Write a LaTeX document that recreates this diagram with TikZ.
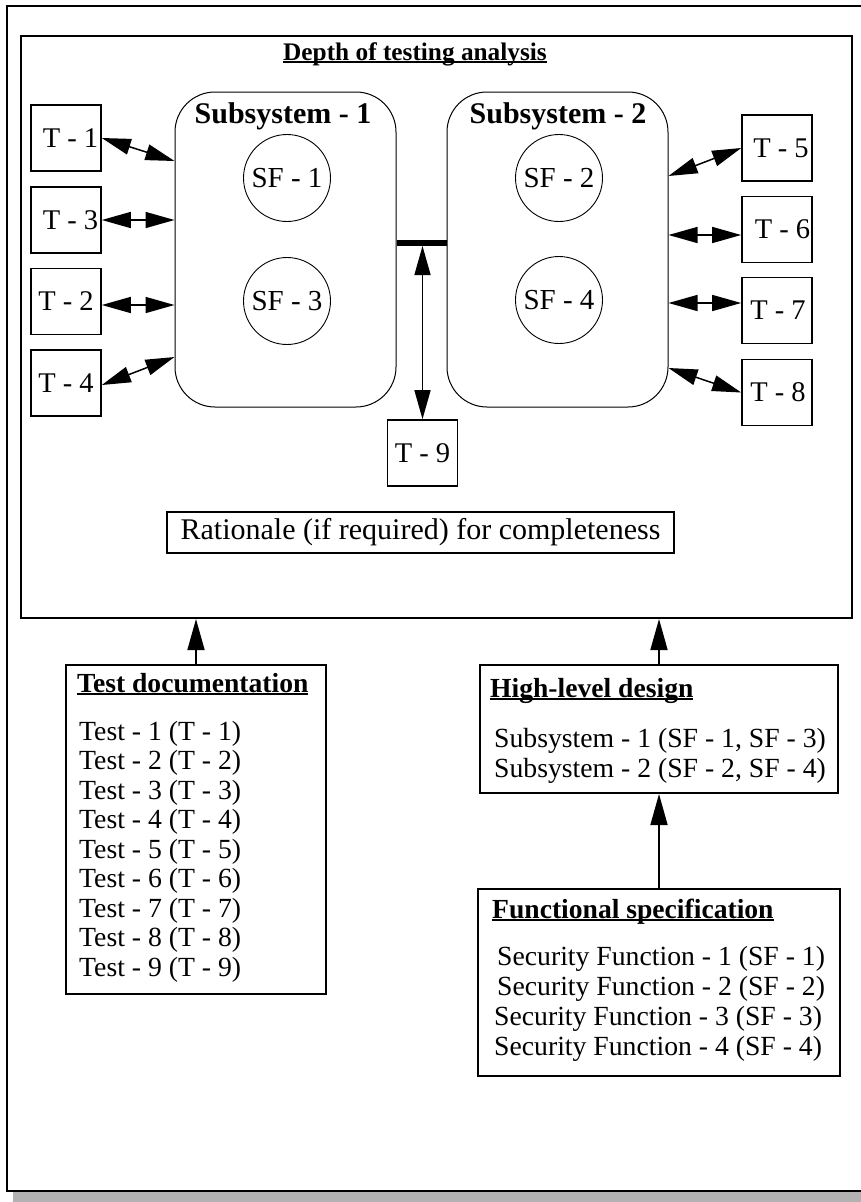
\documentclass[tikz,border=0pt]{standalone}
\usepackage{fontspec}
\setmainfont{Liberation Serif}
\usetikzlibrary{arrows.meta,calc}

% bold heading with a rule close under the baseline
\newsavebox\ulbox
\newcommand\ulbf[1]{\sbox\ulbox{\bfseries #1}\rlap{\usebox\ulbox}\rule[-2.8pt]{\wd\ulbox}{1.5pt}}

\begin{document}
\begin{tikzpicture}[x=1pt,y=-1pt,
  tbox/.style={draw,line width=1.6pt,minimum width=70pt,minimum height=66pt,inner sep=0pt,
    font=\fontsize{28.5}{30}\selectfont},
  subsys/.style={draw,line width=1pt,rounded corners=40pt,minimum width=221pt,
    minimum height=315pt,inner sep=0pt},
  subtitle/.style={anchor=base,inner sep=0pt,font=\fontsize{30}{32}\selectfont\bfseries},
  sfcirc/.style={draw,circle,line width=0.9pt,minimum size=87pt,inner sep=0pt,
    font=\fontsize{29}{30}\selectfont},
  dbl/.style={{Triangle[length=29pt,width=16pt]}-{Triangle[length=29pt,width=16pt]},line width=1.5pt},
  up/.style={-{Triangle[length=31pt,width=17pt]},line width=1.6pt},
  docbox/.style={draw,line width=2pt,inner sep=0pt,anchor=north west},
  listtext/.style={anchor=base west,inner sep=0pt,font=\fontsize{27.7}{30}\selectfont},
  titletext/.style={anchor=base west,inner sep=0pt,font=\fontsize{27.6}{30}\selectfont},
]
\useasboundingbox (0,0) rectangle (861,1202);
\clip (0,0) rectangle (861,1202);

% page frame with drop shadow
\fill[gray!60] (13,13) rectangle (880,1210);
\draw[line width=2pt,fill=white] (7,6) rectangle (872,1191);

% analysis panel
\node[draw,line width=2pt,minimum width=831pt,minimum height=582pt,inner sep=0pt,
  anchor=north west] (dta) at (20,35) {};
\node[anchor=base,inner sep=0pt,font=\fontsize{25.3}{28}\selectfont] (dtatitle) at (415,60)
  {\ulbf{Depth of testing analysis}};

% subsystems and their security functions
\node[subsys] (sub1) at (285.5,249.5) {};
\node[subsys] (sub2) at (557.5,249.5) {};
\node[subtitle] (sub1t) at (283,123) {Subsystem - 1};
\node[subtitle] (sub2t) at (558,123) {Subsystem - 2};
\node[sfcirc] (sf1) at (287,178) {SF - 1};
\node[sfcirc] (sf3) at (287,301) {SF - 3};
\node[sfcirc] (sf2) at (559,178) {SF - 2};
\node[sfcirc] (sf4) at (559,300) {SF - 4};

% tests
\node[tbox] (t1) at (66,138) {\hspace*{9pt}T - 1};
\node[tbox] (t3) at (66,220) {\hspace*{9pt}T - 3};
\node[tbox] (t2) at (66,301.5) {T - 2};
\node[tbox] (t4) at (66,383) {T - 4};
\node[tbox] (t5) at (777,148) {\hspace*{8pt}T - 5};
\node[tbox] (t6) at (777,229.5) {\hspace*{11pt}T - 6};
\node[tbox] (t7) at (777,310.5) {\hspace*{2pt}T - 7};
\node[tbox] (t8) at (777,392.5) {\hspace*{2pt}T - 8};
\node[tbox] (t9) at (422.5,453) {T - 9};

% test links
\draw[dbl] (t1.east) -- ([yshift=88.5pt]sub1.west);
\draw[dbl] (t3.east) -- (t3.east -| sub1.west);
\draw[dbl] ([yshift=-3.5pt]t2.east) -- ([yshift=-3.5pt]t2.east -| sub1.west);
\draw[dbl] ([yshift=-2pt]t4.east) -- ([yshift=-107.5pt]sub1.west);
\draw[dbl] ([yshift=73.5pt]sub2.east) -- (t5.west);
\draw[dbl] ([yshift=-5.5pt]t6.west -| sub2.east) -- ([yshift=-5.5pt]t6.west);
\draw[dbl] ([yshift=7.5pt]t7.west -| sub2.east) -- ([yshift=7.5pt]t7.west);
\draw[dbl] ([yshift=-118.5pt]sub2.east) -- (t8.west);

% interface between the subsystems
\draw[line width=6pt] ([yshift=6.5pt]sub1.east) -- ([yshift=6.5pt]sub2.west);
\coordinate (barlow) at (422.5,246);
\draw[dbl] (barlow) -- (t9.north);

\node[draw,line width=2pt,minimum width=507pt,minimum height=41pt,inner sep=0pt,
  font=\fontsize{30}{32}\selectfont] (rat) at (420.5,532.5) {Rationale (if required) for completeness};

% evidence boxes
\node[docbox,minimum width=260pt,minimum height=329pt] (tdoc) at (65,664) {};
\node[docbox,minimum width=358pt,minimum height=128pt] (hld) at (479,664) {};
\node[docbox,minimum width=362pt,minimum height=187pt] (fspec) at (477,888) {};

\node[titletext] (tdoct) at (77,692) {\ulbf{Test documentation}};
\foreach \i in {1,...,9}
  \node[listtext] (tl\i) at (79,{740+(\i-1)*29.5}) {Test - \i{} (T - \i)};

\node[titletext] (hldt) at (490,697) {\ulbf{High-level design}};
\node[listtext] (hl1) at (494,747) {Subsystem - 1 (SF - 1, SF - 3)};
\node[listtext] (hl2) at (494,777) {Subsystem - 2 (SF - 2, SF - 4)};

\node[titletext] (fspect) at (492,918) {\ulbf{Functional specification}};
\node[listtext] (fs1) at (497,965) {Security Function - 1 (SF - 1)};
\node[listtext] (fs2) at (497,995) {Security Function - 2 (SF - 2)};
\node[listtext] (fs3) at (494,1025) {Security Function - 3 (SF - 3)};
\node[listtext] (fs4) at (494,1055) {Security Function - 4 (SF - 4)};

% flow of evidence
\draw[up] (tdoc.north) -- (tdoc.north |- dta.south);
\draw[up] (hld.north) -- (hld.north |- dta.south);
\draw[up] (fspec.north) -- (hld.south);
\end{tikzpicture}
\end{document}
